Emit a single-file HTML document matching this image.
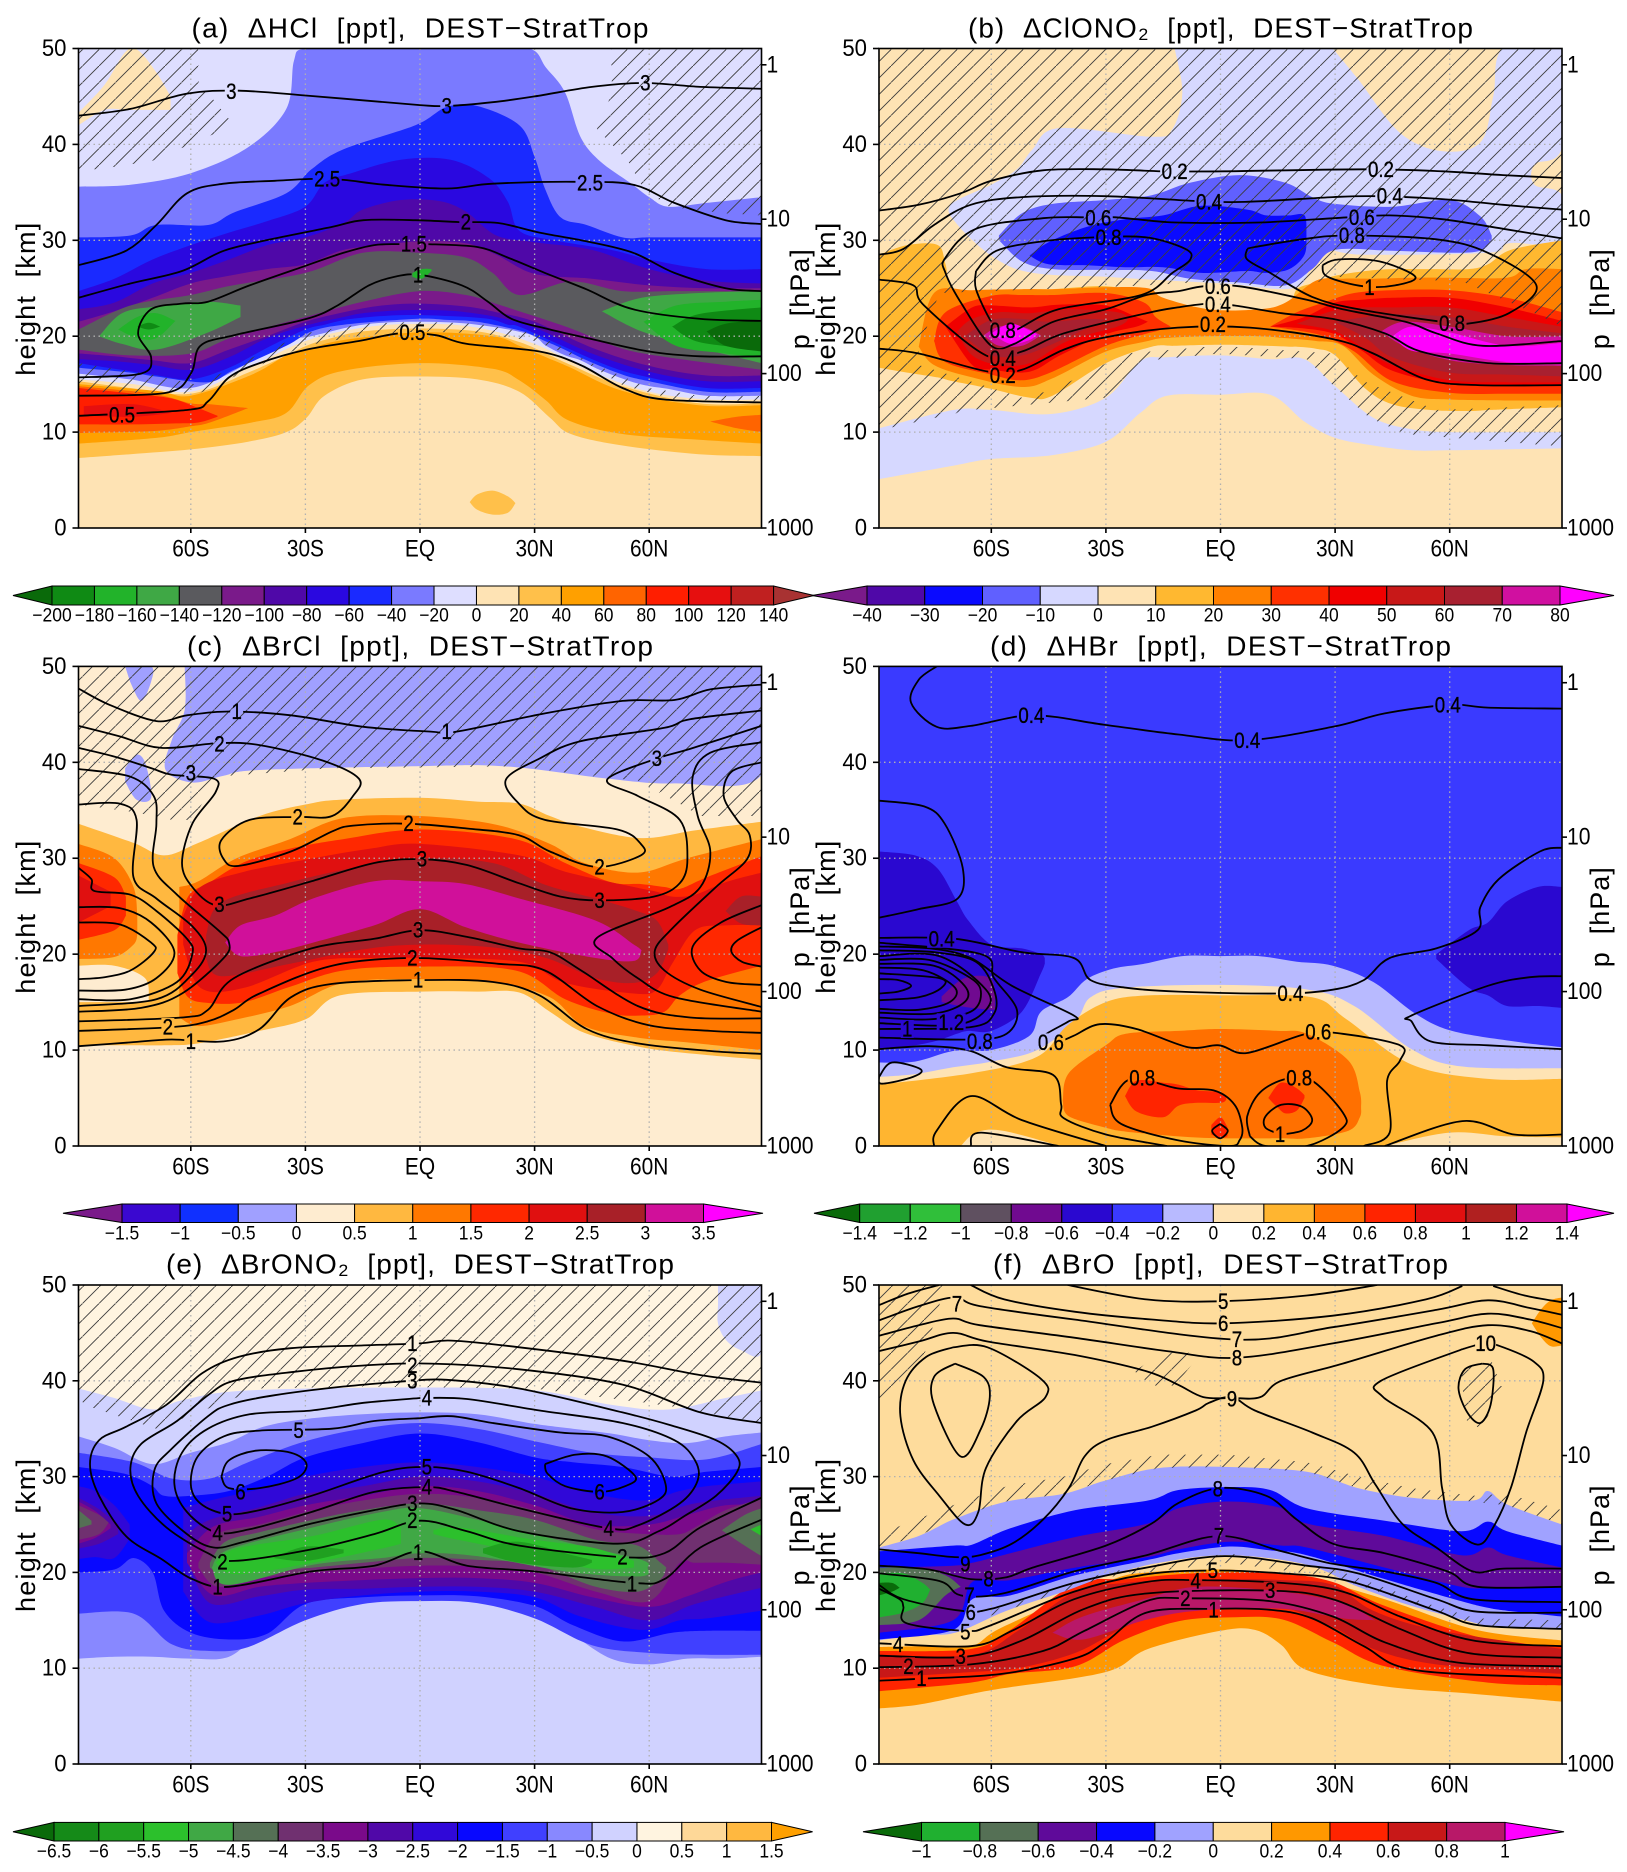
<!DOCTYPE html>
<html lang="en">
<head>
<meta charset="utf-8">
<title>DEST minus StratTrop zonal mean differences</title>
<style>
html,body{margin:0;padding:0;background:#fff}
svg{display:block}
text{font-family:"Liberation Sans",Arial,sans-serif;fill:#000}
</style>
</head>
<body>
<svg id="figure" xmlns="http://www.w3.org/2000/svg" width="1627" height="1872" viewBox="0 0 1627 1872">
<defs>
<pattern id="hatch" patternUnits="userSpaceOnUse" width="16.5" height="16.5">
<line x1="-1" y1="17.5" x2="17.5" y2="-1" stroke="#3a3a3a" stroke-width="0.9"/>
</pattern>
</defs>
</svg>
<script>
/* shared axes */
const latTicks=[-60,-30,0,30,60];
const latTickLabels=['60S','30S','EQ','30N','60N'];
const heightTicks=[0,10,20,30,40,50];
const pressureTicks=[1,10,100,1000];

/* ---------- panel a: HCl ---------- */
const levelsA=['−200','−180','−160','−140','−120','−100','−80','−60','−40','−20','0','20','40','60','80','100','120','140'];
const colorsA=['#0a6a0a','#0f8a14','#22b32a','#3fa845','#5a5a5e','#7a1a8a','#4f08a8','#2a08e0','#1a2aff','#7a7aff','#dedeff','#fee3b4','#ffc04a','#ffa000','#ff6400','#ff1e00','#e60f0f','#c02020','#a83232'];
const bandsA=[
[12,[[-89.4,15.3,7.3],[-75.8,14.6,7.7],[-60,14,8.2],[-45,16.2,9],[-35,18,10],[-29.7,19,11.5],[-25,19.6,13.8],[-15,20.5,15.5],[0,20.8,15.8],[15,20.5,15.5],[26,19.4,14.2],[34,18,11.5],[39.5,17,9.8],[53,14.8,8.6],[73,13,7.7],[89.4,13,7.5]]],
[12,[[13,2.7,2.7],[15,3.5,1.9],[19,3.9,1.4],[23,3.3,1.6],[25,2.6,2.6]]],
[13,[[-89.4,15,8.8],[-69,14.3,9.4],[-60,13.8,10],[-44,16,11],[-35,18,12],[-29,18.7,14.9],[-20,19.6,16.4],[0,20.4,17.2],[19,20,16.6],[26,19,15.4],[33,17.8,13.3],[39,16.8,11.2],[53,14.3,9.8],[73,12.8,9.2],[89.4,12.8,8.8]]],
[14,[[-89.4,14.8,9.9],[-70,14,10.1],[-60,13,10.6],[-55,12.9,11],[-45,12.5,12.5]]],
[14,[[76,11.1,11.1],[83,11.6,10.4],[89.4,11.8,10]]],
[15,[[-89.4,14.6,10.8],[-75,14,10.8],[-65,13.5,10.9],[-58,12.5,11],[-53,11.7,11.6]]],
[16,[[-88,12.7,11.7],[-75,12.9,11.6],[-65,12,12]]],
[10,[[-89.4,50,15.5],[-75,50,15],[-60,50,14.2],[-45,50,16.7],[-30,50,19.5],[-15,50,20.9],[0,50,21.3],[15,50,20.9],[30,50,19.2],[45,50,16.3],[60,50,14.2],[75,50,13.4],[89.4,50,13.4]]],
[11,[[-89.4,43.3,42],[-82.6,46.2,43.6],[-77.2,49.6,43.6],[-73.8,49.8,43.6],[-69,47.5,43.6],[-65.3,45,43.6]]],
[9,[[-89.4,35.6,16.1],[-75.8,35.8,15.5],[-60,37,14.6],[-45,39.7,17.2],[-35,43.7,19.9],[-33,48.7,20.2],[-30,50,19.9],[-15,50,21.2],[0,50,21.5],[15,50,21.2],[28.6,50,20.2],[33,48,19],[38,45.4,18],[42,40.8,17.5],[47,38.3,16.5],[55,36,15.3],[60,34.5,14.8],[65,33.5,14.5],[75,33.9,13.8],[89.4,34.5,13.8]]],
[8,[[-89.4,30.3,16.7],[-75.8,30.5,16.2],[-69,31.6,15.8],[-55.5,31.6,15.2],[-48.7,32.9,16.5],[-35,34.9,19],[-28.4,37.4,20.5],[-20,39.5,21.2],[-1.2,42,21.8],[7,43.9,21.7],[15,44,21.5],[26,42,20.6],[30,38.7,20],[32.7,35.4,19.5],[36.8,32.4,18.8],[43.6,31.6,17.5],[53,30.3,16],[60,30.3,15.3],[75,30.3,14.2],[89.4,30.3,14.2]]],
[7,[[-89.4,24.7,17.2],[-80,26,16.6],[-70,28,16],[-60,29.5,15.5],[-50,30.8,16.7],[-40,32,18.8],[-30,33.5,20.7],[-25,36,21.2],[-18,37,21.8],[-5,38.4,22.2],[8,38.4,22.1],[18,36.5,21.8],[23,34,21.2],[26,31,21],[35,30,19.4],[50,29,16.8],[60,28,15.7],[75,27,14.6],[89.4,27,14.6]]],
[6,[[-89.4,22.8,17.6],[-80,23.5,17.4],[-70,25.5,17],[-60,26.6,16.5],[-50,28,17.8],[-40,29.5,19.8],[-30,30.3,21.1],[-20,31.8,22],[-15,33.2,22.4],[-5,34.2,22.7],[5,34.1,22.7],[12,33,22.5],[20,30.5,22],[30,29.8,20.9],[45,29,18.2],[60,27,16.3],[75,25.8,15.3],[89.4,25.5,15.3]]],
[5,[[-89.4,21.5,18.2],[-80,22.6,17.9],[-70,24,17.5],[-60,25.5,17.2],[-50,26.3,18.6],[-40,27,20],[-30,27.5,21.5],[-20,29,22.5],[-10,29.5,23.2],[0,29.9,23.4],[12,29.7,23.1],[20,28.5,22.5],[30,26.5,21.5],[45,26,18.8],[60,25.3,16.9],[75,25,15.9],[89.4,25,15.9]]],
[4,[[-89.4,20.7,18.6],[-75.8,23.2,18],[-60,24.3,18.2],[-49,25.3,19.9],[-30,26.6,22],[-15,28.7,23.6],[0,28.7,24.7],[12,28.2,24.3],[19,26.6,23.5],[26,24.3,22.6],[39.5,25.7,20.8],[53,24.7,18.7],[66.6,24.7,17.7],[89.4,24.7,16.5]]],
[3,[[-84,20,20],[-78,22.4,19.2],[-69,23.1,18.6],[-56,23.6,20.3],[-47,23.2,22]]],
[3,[[47.6,22.6,22.6],[58,24,20.5],[73,24.5,18.8],[89.4,24.7,17.2]]],
[2,[[-79,20.7,20.7],[-74,22,19.8],[-69,22.4,19.8],[-64,21.6,21.6]]],
[2,[[58.5,21.5,21.5],[67,23.2,19],[80,23.6,18.2],[89.4,23.8,17.8]]],
[2,[[-2,26.6,26.2],[0.5,27,26],[3,27,26.8]]],
[1,[[-74,21,21],[-71,21.4,20.7],[-68,21,21]]],
[1,[[66,21,21],[73,22.3,19.4],[89.4,23,18.6]]],
[0,[[75,20.5,20.5],[80,21.3,19],[89.4,21.7,18.4]]]
];
const contoursA=[
[[-89.4,43],[-75.8,43.7],[-61,45.3],[-47.4,45.6],[-30,45.1],[-15,44.6],[0,44.1],[7,44],[19,44.4],[30,45],[45,46],[58.5,46.4],[73.4,46],[89.4,45.8]],
[[-89.4,27.4],[-77,28.9],[-69,31.6],[-61,34.9],[-51.4,35.9],[-38,36.2],[-27.7,36.4],[-20,36.3],[-9.4,35.8],[7,35.4],[19,35.9],[41,36.1],[55.8,35.8],[66.6,33.9],[80,32.1],[89.4,31.7]],
[[-89.4,24],[-75.8,25.5],[-62.3,26.8],[-51.4,28.9],[-39,30.1],[-23,31.4],[-14.8,32.1],[-1.2,32.1],[10.3,31.9],[20.5,31.8],[31.3,30.8],[43.5,29.9],[55.8,28.7],[66.6,26.6],[80,25],[89.4,24.7]],
[[-89.4,15.7],[-73,16.1],[-70.4,17.8],[-73.8,20.3],[-70.4,22.8],[-62.3,23.4],[-55.5,23.6],[-44.6,25.3],[-31,27.2],[-20,28.7],[-12,29.5],[-5.3,29.6],[1.5,29.6],[15,29.3],[23,28.2],[32.7,26.6],[43.5,24.9],[55.8,22.8],[73.4,21.8],[89.4,21.6]],
[[-89.4,13.8],[-66.4,14.1],[-60,16.1],[-57.5,19],[-48.7,20.1],[-29.7,21.8],[-21.6,23.2],[-13.4,25.3],[-6.6,26.2],[0,26.4],[11,25.3],[17.8,23.6],[24,21.8],[34,20.7],[45,19.7],[60,18.4],[73.4,17.9],[89.4,17.9]],
[[-89.4,11.7],[-61,12.3],[-55.5,13.2],[-50,15.7],[-42,17.2],[-29.7,18.6],[-16,19.5],[-5.3,20.3],[4.2,20.1],[12.3,19.2],[31.3,18.4],[42,17],[53,14.6],[64,13.4],[89.4,13.1]]
];
const labelsA=[['3',-49.4,45.5],['3',7,44],['3',59,46.4],['2.5',-24.3,36.4],['2.5',44.5,36],['2',12,31.9],['1.5',-1.6,29.6],['1',-0.5,26.4],['0.5',-2,20.4],['0.5',-78,11.8]];
const hatchA=[
[[-89.4,50],[-58,50],[-58,46.6],[-48.7,42],[-70,38.3],[-84,37.4],[-89.4,37.4]],
[[50,50],[89.4,50],[89.4,32.6],[80,32.8],[65.3,33.5],[58.5,35.4],[54.4,38.3],[46.3,41.6],[50.3,45.4]],
[[-89.4,17.2],[-70,16],[-58,14.9],[-46,17.4],[-30,20.3],[-15,21.3],[0,21.5],[15,21.3],[30,20.3],[45,17.2],[60,14.6],[73,13.8],[89.4,13.8],[89.4,13.2],[66.6,13.4],[53,14.9],[42,17.6],[30,19.5],[15,20.3],[0,20.5],[-15,20.1],[-30,19],[-46,16.3],[-58,14],[-89.4,14.2]]
];

/* ---------- panel b: ClONO2 ---------- */
const levelsB=['−40','−30','−20','−10','0','10','20','30','40','50','60','70','80'];
const colorsB=['#7a1a8a','#4f08a8','#0a0aff','#6060ff','#d6d8ff','#fee3b4','#ffb830','#ff8000','#ff3000','#f00000','#c81818','#a82030','#d010a0','#ff00ff'];
const bandsB=[
[4,[[-12,50],[-10,45.4],[-12.6,41.6],[-18,40.8],[-42.4,41.7],[-49.2,39.5],[-53.3,37.4],[-60,35.8],[-70.6,33.7],[-68.8,31.6],[-59.3,28.2],[-49.2,26.6],[-30.2,26.2],[-18,25.9],[1,25.5],[20,25.1],[25.3,28.9],[37.5,28.5],[70,28.7],[75.5,29.7],[89.4,29.9],[89.4,34.7],[82.2,35.8],[82.2,37.9],[89.4,39.7],[89.4,50],[74,50],[71.4,45],[68,40.2],[57.9,39.3],[47,41.2],[36.2,46.7],[29.4,50]]],
[4,[[-89.4,10.4,5.1],[-70,12.3,6.5],[-60,12.3,7.2],[-44,11.9,7.6],[-30,13.6,9],[-21,17.4,12],[-14,17.8,13.8],[0,18,13.9],[13,17.6,13.9],[22,17.6,11.1],[30,14.8,9.4],[40,11.5,8.6],[50,10.3,8.1],[60,10,8.1],[75,10,8.2],[89.4,10,8.3]]],
[3,[[-58,30.5,30],[-52,32.8,27.8],[-44,33.8,27],[-30,34.2,26.9],[-18,34.7,26.8],[-8,36,26],[5,36.8,25.6],[17,36,25.3],[24,34.5,27],[30,33.8,29],[45,33.5,28.9],[60,34.2,28.7],[68,32.5,28.9],[71,30.5,30]]],
[2,[[-50,28.4,28.4],[-45,29.8,27.5],[-35,31.4,27.4],[-25,32.2,27.2],[-15,32.6,27.2],[-5,33.6,26.6],[7,33.2,26.8],[12,32.6,26.6],[18,32.6,27],[22,32.6,28.5],[22.5,30.5,30.5]]],
[6,[[-89.4,28.5,16.7],[-82,29.5,16.2],[-74,29.5,15.7],[-72,27.5,15.5],[-70,25,15.3],[-60,24.8,14.5],[-50,24.9,13.6],[-44,24.9,13.8],[-30,25.2,17.2],[-18,24.4,18.9],[-12,23.5,19],[0,22.4,19.1],[12,22.5,19],[18,23,18.9],[20,24.9,18.9],[25,25.6,18.7],[30,26.3,18],[38,26.8,14.5],[45,27,12.9],[55,27,12.3],[65,27,12.2],[70,27.5,12.3],[76,29,12.4],[89.4,30,12.6]]],
[7,[[-79,18.9,18.9],[-75,24.5,17],[-65,24.8,15.7],[-52,24.9,14.7],[-44,24.9,15.6],[-30,25.1,18.4],[-19,25,19.5],[-15,24,19.8],[-3,22.8,20],[10,22.8,20],[17,23.5,19.8],[25,25.8,19.5],[32,26,19],[40,26,16],[50,26.1,13.8],[60,26.1,13.4],[75,26.1,13.3],[80,27,13.3],[89.4,27,13.3]]],
[8,[[-75,19.5,19.5],[-72,22.5,17.3],[-60,24.2,16],[-52,24.3,15.4],[-44,24.3,16.3],[-30,24.5,19],[-20,23.5,20.2],[-17,22,20.5],[-13,21,21]]],
[8,[[13,21,21],[20,22.5,20.6],[27,23.5,20],[35,24.5,18.4],[45,24.8,15.3],[60,24.8,14.1],[75,24,14],[89.4,22.5,14]]],
[9,[[-72,21,21],[-65,23,17],[-60,23.2,16.5],[-50,23,16.3],[-42,23.3,18],[-30,23.2,20.2],[-22,22,21],[-19,21.5,21.5]]],
[9,[[13,21,21],[22,22,20.8],[30,23.5,20.2],[37,23.8,18.5],[45,24,16.4],[60,24,15],[75,23,14.8],[89.4,21.6,14.8]]],
[10,[[-69,20.5,20.5],[-65,21.8,18],[-58,22.5,17],[-50,22.4,17.2],[-40,22.8,19.5],[-27,22.5,21],[-24,21.8,21.8]]],
[10,[[20,21.3,21.3],[30,22.7,20.5],[38,23,18.6],[45,23,17],[60,23,15.4],[75,22,15.2],[89.4,21,15.2]]],
[11,[[-67,20,20],[-60,21.7,18],[-52,21.8,18],[-45,21.5,19],[-35,21.8,20.8],[-30,21.7,21.7]]],
[11,[[30,21.5,21.5],[38,22,19.8],[45,22.3,17.8],[60,22,16.2],[75,21,16],[89.4,20.3,15.8]]],
[12,[[-62,20.1,20.1],[-58,21,19],[-52,21,19],[-47,20.1,20.1]]],
[12,[[42,20.5,20.5],[48,21.5,19],[60,21,17.5],[75,20,17],[89.4,20,16.9]]],
[13,[[-60,20.3,20.3],[-55,21.3,19.2],[-50,20.6,19.6],[-48,20.2,20.2]]],
[13,[[45,20,20],[50,21,18.5],[60,20.4,18.2],[75,19,17.3],[89.4,19.3,17.2]]]
];
const contoursB=[
[[-89.4,33.1],[-79,33.7],[-68,34.9],[-60,36.2],[-46.5,37.3],[-30,37.4],[-15.3,37.2],[1,37.2],[37.5,37.4],[58,37.2],[74,36.8],[89.4,36.5]],
[[-89.4,28.5],[-83,29.1],[-75,31.6],[-65.4,33.7],[-52,34.5],[-30,34.6],[-6.5,34.1],[6.4,34],[29.4,34.5],[41,34.6],[58,34.3],[74,33.7],[89.4,33.2]],
[[89.4,30.2],[74,31.2],[58,32.2],[44.3,32.6],[33.5,32.4],[13,31.9],[-0.4,31.8],[-14,31.9],[-27.5,32.4],[-35,32.4],[-46.5,32.3],[-64,31.2],[-72,28.2],[-72,26.6],[-67.5,23.2],[-60,19],[-54,19.2],[-43.8,21.5],[-30,22.8],[-19.4,24.3],[-11,24.7],[-4.5,25.2],[5,25.2],[22.6,23.8],[32,22.8],[48.4,21.5],[56.5,20.3],[68.7,19],[89.4,19.5]],
[[-89.4,25.9],[-80.4,25.3],[-77.6,23.2],[-61.4,18],[-52,18.4],[-41,20.3],[-19.4,22.4],[-11.2,23],[-3,23.4],[3.7,23.2],[16,22.4],[29.4,21.8],[43,20.3],[52.4,18.4],[70,17.2],[89.4,17.2]],
[[-89.4,18.7],[-79,18.2],[-60.7,16.3],[-52,16.5],[-41,18.6],[-30,19.9],[-11.2,20.9],[7.7,20.9],[29.4,19.7],[40,18.2],[53.8,15.5],[67.3,14.9],[89.4,14.9]],
[[-64,26.8],[-58.7,28.9],[-46.5,29.9],[-33,30.3],[-19.4,30.3],[-9.2,29.1],[-7.9,28],[-12.6,26.6],[-20.7,24.3],[-42.4,22.8],[-53.3,20.7],[-57,20.4],[-60,21.5],[-64,24.9],[-64,26.8]],
[[7,29.1],[9,29.3],[21.3,30.1],[33.5,30.5],[56.5,30.1],[70,28.7],[82.7,25.3],[75.5,22.4],[64.6,21.3],[57.9,21.5],[36.2,22.8],[24,24.1],[13,26.6],[7,28],[7,29.1]],
[[26.7,27.4],[30.8,28],[41.6,27.8],[51,26.2],[45.7,25.3],[37.5,25.2],[28,26.2],[26.7,27.4]]
];
const labelsB=[['0.2',-12,37.2],['0.2',42,37.4],['0.2',-2,21.2],['0.2',-57,15.9],['0.4',-3,34],['0.4',44.3,34.6],['0.4',-0.7,23.3],['0.4',-57,17.7],['0.6',-32,32.3],['0.6',37,32.4],['0.6',-0.7,25.2],['0.8',-29.3,30.3],['0.8',34.4,30.5],['0.8',-57,20.6],['0.8',60.6,21.3],['1',39,25.1]];
const hatchB=[
[[-89.4,50],[89.4,50],[89.4,8.5],[48.4,9.8],[39,11.5],[29.4,14.9],[22.6,17.6],[-0.4,18.2],[-20.7,17.4],[-30,13.6],[-65.4,12.3],[-89.4,10.2]],
[[-79,18.6],[-73.6,24.5],[-19.4,25.3],[-3,25.7],[20,24.9],[29.4,26.2],[63.3,25.7],[82.2,22.4],[89.4,21],[89.4,12.8],[56.5,12.3],[37.5,15.3],[29.4,18.2],[-0.4,19],[-24.8,18.2],[-43.8,14.4],[-52,13.6],[-79,17]]
];

/* ---------- panel c: BrCl ---------- */
const levelsC=['−1.5','−1','−0.5','0','0.5','1','1.5','2','2.5','3','3.5'];
const colorsC=['#7a1a8a','#3a08d0','#1030ff','#a0a0ff','#feecd0','#ffb840','#ff7800','#ff2800','#e01010','#a82028','#d0109a','#ff00ff'];
const bandsC=[
[3,[[-61.6,50],[-61.6,45.5],[-65,42.3],[-66.6,39.2],[-59.6,37.9],[-51.4,38.6],[-42,39.2],[-1.2,39.6],[21.8,39.6],[49,38.3],[66.6,37.8],[89.4,38.7],[89.4,50]]],
[3,[[-77.2,50],[-70.4,50],[-70.4,48.4],[-73,46.4],[-75.9,48.4]]],
[3,[[-77.2,39.4],[-74.2,40.8],[-71.8,39.8],[-70.4,36.3],[-74.2,36.1],[-77.2,38]]],
[5,[[-89.4,33.6,10.5],[-75,31.6,10.5],[-67,30.3,10.5],[-58,31.6,10.7],[-42,34.4,12],[-30,35.6,13.2],[-21,36.1,15.7],[0,36.3,16.1],[15,35.9,16.1],[26,35.7,16],[34,34.4,14],[43,33.2,11.8],[58,32.1,10.3],[72,32.9,9.6],[89.4,33.8,9]]],
[4,[[-89.4,18.8,15],[-80,18.8,15],[-72,17.5,15],[-71,15.2,15.2]]],
[6,[[-89.4,31.5,19.5],[-80,30,19.7],[-75,27,21],[-74,24,22]]],
[7,[[-89.4,29.5,21.5],[-80,28,22.5],[-77,26,24]]],
[8,[[-89.4,28.2,23.3],[-81,26.5,25]]],
[6,[[-63,27,13.4],[-58,27.6,12.5],[-48,30,13.2],[-34,32,14.6],[-20,34.2,17],[0,34.4,17.4],[20,33.5,17],[34,31.5,15.5],[43,29.5,12.5],[57,28.5,11.3],[70,30,10.8],[89.4,32,10]]],
[7,[[-63.5,22,18],[-60.7,26,15.5],[-55,27.5,14.9],[-46,29.6,15],[-34,31,16.6],[-20,32,18.3],[0,33,18.7],[25,32,18.3],[38,29.5,15.3],[50,27.5,13.8],[58,27.3,13.6],[64,27,14],[68,26.8,15.7],[75,28,17.2],[89.4,30.2,18.8]]],
[8,[[-62,24,21],[-57.5,27,16.5],[-46,28.6,16.5],[-28,30,19.2],[-13,31,19.6],[0,31.5,19.6],[26,30.3,19.2],[38,28.6,17],[56,27,15.9],[62,26.5,16.3],[66,26,19],[72,26.2,22.5],[80,27.5,23],[89.4,28.5,23]]],
[9,[[-56,22,19.5],[-52,25.4,17.7],[-34,27.5,19],[-15,29.2,20.5],[0,30,21],[19,29.5,20.7],[33,27.2,19.6],[46,25.8,17.5],[56,24.6,17],[62,23.5,18],[65,21,20.5]]],
[9,[[80,24.5,24.5],[84,26,23.2],[89.4,26,23]]],
[10,[[-51,21.2,21.2],[-47,23,19.8],[-38,24,20.2],[-28,25.8,21.2],[-12,27.6,23],[0,27.6,24.7],[12,27.3,22.8],[26,25.8,21.2],[46,23.5,19.6],[56,21,19.3],[58,20.4,20.4]]]
];
const contoursC=[
[[-89.4,47.7],[-81.3,46],[-69,44.3],[-61,44.9],[-50,45.3],[-33.8,44.9],[-14.8,43.7],[2.8,43.2],[9.6,43.2],[32.7,45.1],[53,46.4],[66.6,46.5],[76,47.6],[89.4,48.1]],
[[-89.4,43.8],[-78.6,42.7],[-67.7,41.5],[-52.8,42],[-42,41.8],[-25.6,40.2],[-16,38.3],[-17.5,36.5],[-23,34.4],[-31.8,34.3],[-44.6,34],[-52,31.9],[-51.4,29.9],[-47.4,29.2],[-33.8,30.7],[-23,32.8],[-17.5,33.4],[-3.3,33.6],[12.3,33.1],[25.9,32.4],[34,30.7],[46.3,29.1],[57.8,30.3],[57.8,31.5],[51.7,33],[32.7,34],[25.9,35.7],[22.5,38.2],[31.3,40.4],[42,42.2],[64,43.6],[70.7,44.5],[89.4,45.4]],
[[-89.4,41.5],[-80,40.6],[-70.4,39.4],[-65,38.7],[-54,38.3],[-53.5,36.9],[-59.6,33.6],[-62.3,29.5],[-59.6,27],[-53.5,25.1],[-44.6,25.8],[-28.4,27.6],[-12,29.5],[0,29.9],[12.3,29.3],[25.9,27.4],[36.8,26],[47,25.6],[61.2,26],[68,27.4],[70,29.9],[68,34],[57,36.5],[49,38.2],[62,40.4],[70.7,41.4],[89.4,43.8]],
[[-89.4,39.3],[-75.8,38.5],[-69.7,36.5],[-69,33.6],[-69.7,29.1],[-63.6,26.2],[-52.8,22.5],[-50,21.2],[-51.4,19.6],[-62.3,15.9],[-73,14.4],[-89.4,14]],
[[-89.4,35.6],[-78.6,35.7],[-74.2,34],[-75,28],[-69,25.8],[-59.6,22.9],[-56,20.4],[-59.6,17.9],[-69,15.3],[-89.4,14.6]],
[[-89.4,29],[-86,27.8],[-85.3,26.6],[-75.8,26.2],[-69,24.5],[-61,21.6],[-59.6,20],[-63.6,17.1],[-75.8,15.3],[-89.4,15.3]],
[[-89.4,24.9],[-78.6,24.8],[-70.4,23.3],[-64.3,20.2],[-69,17.5],[-77.2,16.3],[-89.4,16.2]],
[[-89.4,23.3],[-78.6,23.1],[-70.4,21.2],[-69.7,20.2],[-75.8,18.3],[-82.6,17.6],[-89.4,17.4]],
[[-89.4,10.4],[-75.8,10.8],[-65,11.1],[-51.4,10.9],[-42,12.2],[-33.8,15.5],[-23,16.9],[0,17.3],[19.1,17.1],[31.3,15.7],[43.6,12.2],[57,10.7],[76,9.9],[89.4,9.6]],
[[-89.4,12],[-65,12.4],[-55.5,13],[-48.7,14.2],[-42,15.9],[-23,18.8],[-2,19.6],[20.5,19],[32.7,18.3],[46.3,14.6],[59.8,12.6],[76,12],[89.4,11.8]],
[[-89.4,13],[-62.3,13.4],[-55.5,14.2],[-48.7,17.5],[-28.4,20.6],[-12,21.6],[0,22.5],[12.3,21.8],[25.9,20.6],[34,20.2],[42.2,18.3],[57,14.6],[70.7,13.4],[89.4,13.3]],
[[89.4,42.1],[76,41],[71.4,38.5],[72.7,34.4],[76,30.7],[73.4,27],[65.3,24.9],[46.3,21.7],[50.3,19.6],[57,17.5],[66.6,15.5],[89.4,14]],
[[89.4,40],[81.5,39],[79.5,36.5],[83,34],[86.3,32.4],[85.6,29.9],[77.5,27],[66.6,22.9],[61.5,20.4],[64,18.3],[73.4,16.3],[89.4,14.5]],
[[89.4,25.1],[78.8,23.3],[71.4,20.8],[73.4,18.3],[80.2,17.1],[89.4,16.8]],
[[89.4,22.8],[83,21.4],[81.5,20.3],[84.3,19.2],[89.4,18.7]]
];
const labelsC=[['1',-48,45.3],['1',7,43.2],['1',-0.5,17.3],['1',-60,10.9],['2',-52.5,41.9],['2',-32,34.3],['2',-3,33.6],['2',47,29.1],['2',-2,19.6],['2',-66,12.4],['3',-60,38.9],['3',62,40.4],['3',-52.5,25.2],['3',0.5,29.9],['3',47,25.6],['3',-0.5,22.5]];
const hatchC=[
[[-89.4,50],[89.4,50],[89.4,34.4],[73.4,34.4],[68,35.7],[57,38.1],[46.3,38.5],[26,39.6],[-14.8,39.4],[-23,39.4],[-52.8,38.5],[-59.6,34],[-65,34],[-74.5,34.8],[-89.4,35.6]]
];

/* ---------- panel d: HBr ---------- */
const levelsD=['−1.4','−1.2','−1','−0.8','−0.6','−0.4','−0.2','0','0.2','0.4','0.6','0.8','1','1.2','1.4'];
const colorsD=['#0a6a0a','#20a030','#30bf3a','#5f5060','#700a90','#2a08d0','#3a3aff','#b8baff','#fee3b4','#ffb530','#ff7000','#ff2400','#e01010','#b02020','#d0109a','#ff00ff'];
const bandsD=[
[5,[[-89.4,30.7,10],[-80,30.3,10.5],[-74,28.9,11],[-69,25.5,11.7],[-66,23.5,12],[-60,21,12],[-52,20.6,14],[-47,20,18],[-46,19.6,19]]],
[5,[[56.5,20,19.5],[65,22.5,16.5],[70,23.3,15.7],[75,25.5,14.6],[83,27,14.6],[89.4,27,14.4]]],
[4,[[-73,15.6,15],[-67,17.5,14.5],[-60,17.4,14.2],[-59,14.5,14.3]]],
[7,[[-89.4,8.7,0],[-80,8.8,0],[-70,9.9,0],[-60,10,0],[-50,11.5,0],[-47,14,0],[-40,15.5,0],[-35,17.4,0],[-28,18.5,0],[-20,19,0],[-10,19.8,0],[0,19.8,0],[10,19.8,0],[20,19.2,0],[29.4,18.8,0],[40,17.1,0],[51,13.8,0],[60.6,12,0],[76.8,10.9,0],[89.4,10.3,0]]],
[8,[[-89.4,7.2,0],[-80,7.5,0],[-70,8.2,0],[-60,8.8,0],[-48,10,0],[-38,13,0],[-34,15.5,0],[-25,16.5,0],[0,16.8,0],[23,16.3,0],[35,14.6,0],[50,10.1,0],[63,8.3,0],[89.4,8.1,0]]],
[9,[[-89.4,6.4,0],[-65,7.6,0],[-48,9.3,0],[-40,12.6,0],[-30,15,0],[-19,15.7,0],[2,15.7,0],[24,15.5,0],[33,13.2,0],[50,8.5,0],[70,7,0],[89.4,7,0]]],
[8,[[-68,0,0],[-64,1.4,0],[-57,1.6,0],[-42,0,0]]],
[8,[[43,0,0],[60,1.4,0],[75,1,0],[89.4,0.9,0]]],
[10,[[-41.3,4.7,4.7],[-39.7,7.6,3.1],[-30,10.5,1.9],[-24.8,11.7,1.5],[-11,12,1],[0,12.2,0.8],[15,12,0.8],[22.6,11.7,0.8],[33.5,8.9,1.6],[36.5,5.6,3],[36.8,4,4]]],
[11,[[-25,5.2,5.2],[-22,6.8,3.6],[-15,6.6,3],[-11,6.4,4.2],[-6,5.8,4.5],[0,5.6,4.5],[1.5,5,4.8]]],
[11,[[-2.4,2.2,1.2],[0,3,0.8],[1.8,2,1]]],
[11,[[12.5,5,5],[15,6.4,4],[17,6.6,3.4],[20,6,3.7],[22,5.3,5]]]
];
const contoursD=[
[[-74.3,50],[-79,48.6],[-81,46.2],[-74.3,43.7],[-65.4,43.8],[-49.2,44.9],[-30.2,43.9],[-11,42.9],[7,42.3],[29.4,43.7],[43,45.1],[60,46],[70,45.7],[89.4,45.6]],
[[-89.4,36],[-77.6,35.4],[-72.2,33.6],[-67.5,29],[-68.8,25.8],[-79,24.7],[-89.4,23.8]],
[[89.4,31.1],[83.6,30.7],[72.8,27.8],[68,24.9],[67.3,22.5],[56.5,20.6],[44.3,19.6],[37.5,17.3],[29.4,16.3],[16,15.9],[-11,16.1],[-24.8,16.5],[-34,17.3],[-38.4,19.6],[-52,20.2],[-69.5,21.6],[-89.4,21.7]],
[[89.4,17.7],[81,17.6],[70,16.7],[50,13.6],[50,13],[55,10.9],[70,10.5],[89.4,10.1]],
[[-89.4,20.8],[-76,20.6],[-65.4,19.6],[-54.6,16.7],[-38.4,13.6],[-39.7,13],[-46.5,11.4],[-42,11],[-38.4,11.5],[-31.6,12.7],[-22,12.2],[-8.5,10.3],[-0.4,10.5],[7,9.7],[22.6,11.7],[32,11.7],[47,10.5],[47,8.9],[43.6,6.8],[44.3,1.4],[37.5,0]],
[[-89.4,10.1],[-76.3,10.4],[-65.4,9.9],[-56,8.2],[-43.8,7.4],[-41.7,4.3],[-41,2.9],[-30,1.2],[-14,0]],
[[-89.4,7.2],[-86,8.7],[-78.5,8],[-80.5,7.2],[-88.6,6.5],[-89.4,7.2]],
[[-75,0],[-74.3,1.6],[-65.4,5.2],[-52,2.7],[-30,0]],
[[-65.4,0],[-62.7,1.4],[-42.4,0]],
[[43,0],[63.3,2.6],[76.8,1.2],[89.4,1.2]],
[[-89.4,11.3],[-65.4,11.1],[-56,11.7],[-53.3,14.2],[-59.3,17.5],[-62.7,20],[-89.4,21.2]],
[[-89.4,20.4],[-75,20.2],[-64,19.2],[-59.3,16.3],[-59.3,13.8],[-65.4,12.4],[-89.4,12.2]],
[[-89.4,19.8],[-73.6,19.8],[-61.4,16.3],[-61.4,14.2],[-69.5,12.6],[-89.4,12.8]],
[[-89.4,19.4],[-76.3,19.4],[-65.4,17.5],[-62.7,15.9],[-65.4,14],[-76.3,13.2],[-89.4,13.4]],
[[-89.4,19],[-75,18.8],[-67,16.7],[-67,15],[-75,13.8],[-89.4,13.9]],
[[-89.4,18.6],[-77.6,18.3],[-69.5,16.5],[-70.9,15],[-79,14.2],[-89.4,14.3]],
[[-89.4,18],[-73.6,17.5],[-73,16.5],[-79,15.5],[-89.4,15.2]],
[[-89.4,17.4],[-84.3,17.3],[-81,16.7],[-84.4,16.1],[-89.4,15.9]],
[[-0.1,2.3],[1.9,1.6],[-0.1,0.8],[-2.2,1.6],[-0.1,2.3]],
[[-28.9,4.3],[-23.4,7],[-11.2,6],[-1.8,5.8],[3.7,4.3],[5.7,1.9],[5,0.6],[2.3,0],[-11.2,0.6],[-26,2.3],[-28.9,4.3]],
[[7.7,1],[7,3.1],[10.4,5.6],[17.2,7],[24,6.8],[32,3.5],[32,1.9],[22.6,0],[11.8,0],[7.7,1]],
[[15.9,1.2],[11.8,1.9],[11.8,3.1],[15.9,4.3],[21.3,4.1],[24,2.7],[21.3,1.6],[15.9,1.2]]
];
const labelsD=[['0.4',-49.5,44.9],['0.4',7,42.3],['0.4',59.5,46],['0.4',-73,21.6],['0.4',18.3,15.9],['0.6',-44.4,10.8],['0.6',25.6,11.9],['0.8',-63,10.9],['0.8',-20.5,7.1],['0.8',20.6,7.1],['1.2',-70.5,12.9],['1',-82,12.2],['1',15.6,1.2]];
const hatchD=[];

/* ---------- panel e: BrONO2 ---------- */
const levelsE=['−6.5','−6','−5.5','−5','−4.5','−4','−3.5','−3','−2.5','−2','−1.5','−1','−0.5','0','0.5','1','1.5'];
const colorsE=['#0a6a0a','#158a18','#20a020','#2cc02c','#40a845','#557055','#703070','#7a0a8a','#5008a8','#3008d8','#0808ff','#4040ff','#8888ff','#d0d2ff','#fff4e0','#fed898','#ffb840','#ffa000'];
const bandsE=[
[14,[[-89.4,50,39.2],[-80,50,38.2],[-70,50,37],[-62,50,38],[-45,50,39],[0,50,39.3],[30,50,39],[50,50,37.5],[65,50,37],[80,50,38.2],[89.4,50,39]]],
[13,[[78,50],[78,48],[78,46],[80,44.3],[84,43.2],[89.4,43],[89.4,50]]],
[12,[[-89.4,34.2,11],[-80,33,11.2],[-70,31.3,11.2],[-60,32.5,11],[-50,33.6,11.2],[-41,35.2,13.9],[-30,36,15.5],[-15,36.5,16.8],[0,36.7,17.2],[15,36.5,17.2],[30,35.5,16],[40,35,13.5],[50,34.5,11],[60,33.8,10.4],[70,33.5,11],[80,34.2,11],[89.4,34.6,11.2]]],
[11,[[-89.4,32.5,15.7],[-75,31.5,15.7],[-65,29.8,12.5],[-55,29.8,11.8],[-45,31.5,12.2],[-30,33.7,15],[-15,35,16.7],[0,35.6,17],[15,35,16.8],[30,33.7,15.2],[45,32.5,12.4],[60,32,11.6],[75,31.8,11.4],[89.4,33.4,11.4]]],
[10,[[-89.4,31,20],[-80,30.5,20.3],[-75,30,21.5],[-70,29,20],[-67,28,16],[-60,28,13.7],[-50,28.5,13],[-40,30,13.6],[-30,32,16.7],[-15,33.5,17.4],[0,34.5,17.6],[15,33.6,17.5],[30,32,16.5],[40,31.5,14.5],[53,31,12.8],[66,30,13.7],[75,30.5,13.9],[89.4,31,13.9]]],
[9,[[-89.4,29,21.4],[-85,28.5,21.6],[-80,27,21.5],[-76,25,23.5]]],
[9,[[-62,26.7,18],[-55,27.5,14.8],[-42,28.7,15.5],[-30,30,16.8],[-15,31,17.6],[0,31.5,18],[15,31,18],[30,30,17.4],[42,28.5,15.4],[58,27.5,14],[68,28.5,15],[75,29,15.2],[89.4,29.5,16]]],
[8,[[-89.4,27.8,22.5],[-84,26.6,23],[-79,25,24]]],
[8,[[-61,24,21.5],[-55,25.5,16.8],[-42,26.8,17.5],[-30,28.2,18.2],[-15,29,18.3],[0,30,18.5],[15,29.5,18.5],[30,28.2,18],[45,26.3,16.5],[60,25.9,15],[72,27.2,16.7],[89.4,28,18.4]]],
[7,[[-89.4,27.4,23],[-85,26.4,23.6],[-81,25,24.6]]],
[7,[[-61,22,21],[-54,24.8,17.6],[-42,25.8,18.5],[-30,27,18.9],[-15,28,19.2],[0,29,19.4],[15,28.5,19.4],[30,27,18.9],[45,25,17.4],[60,25,16.4],[70,26,17.5],[80,27,19],[89.4,27,20]]],
[6,[[-89.4,27,23.4],[-84,26,24],[-81.5,25.2,25.2]]],
[6,[[-58,21,20.5],[-53,24,18.5],[-42,25,19.4],[-28,26.5,20],[-15,27.5,20.4],[0,28.2,20.7],[15,27.8,20.6],[30,26.5,20],[46,24.5,18],[60,24,17],[68,24,21],[72,24.7,21],[80,26.5,21],[89.4,27.7,20.8]]],
[5,[[-89.4,26.5,24.6],[-86,25.4,25]]],
[5,[[-55,21,20.5],[-51,23.2,19.6],[-42,24.2,20.1],[-28,25.5,20.5],[-15,26.5,21],[0,27.2,21.5],[15,26.5,21.3],[30,25.5,20.8],[46,23.4,18.5],[57,22.8,18],[63,21,19.3],[64.5,20.5,20.5]]],
[5,[[79,24.4,24.4],[85,26,22.8],[89.4,26.7,21.7]]],
[4,[[-54.5,20.5,20.5],[-50,22.4,18.7],[-28,24.7,20.8],[-10,26.3,21.5],[0,26.7,22],[15,25.5,21.7],[40,23,20],[58,21.3,19.6],[59.6,20.5,20.5]]],
[3,[[-53.5,21,21],[-48,22.5,19.8],[-28,23.8,21],[-10,25.5,22.5],[-5,24.7,23]]],
[3,[[3.5,24.4,24],[10,24.7,23.4],[30,23.4,21.8],[45,22.6,20.4],[56,21.2,20.5]]],
[3,[[86.5,24.5,24.5],[89.4,25,23.8]]],
[2,[[-38.5,21.5,21.5],[-30,22.7,21.2],[-20,22.4,22]]],
[2,[[16.5,22.5,22],[26,23.2,21],[40,21.8,20.5],[45,21.3,21]]]
];
const contoursE=[
[[89.4,39.8],[73.4,40.6],[53,42.1],[26,43.5],[8.3,44.2],[0,43.9],[-14.8,43.7],[-33.8,43.4],[-47.4,42.5],[-57,40.8],[-66.4,37.5],[-77,35.2],[-84,33.8],[-86.4,31.3],[-84,28],[-77,23.8],[-67.7,21.4],[-59.6,19.3],[-50,18.5],[-28.4,20.1],[-12,20.7],[0,22.2],[12.3,20.7],[30,20.1],[55.8,18.9],[64,19.3],[73.4,22.6],[89.4,25.5]],
[[89.4,35.6],[73.4,36.7],[53,39.6],[26,41.2],[2.8,41.8],[-14.8,41.6],[-33.8,40.9],[-48.7,40],[-55.5,38.5],[-63.6,35.8],[-73,33.4],[-75.8,30.9],[-73.8,28],[-66.4,24.7],[-55.5,22],[-48.7,21.2],[-28.4,22.4],[-12,24],[0,25.4],[12.3,24.3],[26,22.8],[53,21.6],[64,22],[73.4,24.7],[89.4,27.8]],
[[-2.6,40],[7,40.1],[26,39.2],[53,36.7],[65.3,35.4],[77.5,33.8],[83,32.1],[83,30.5],[77.5,28],[69.3,25.9],[62.5,24.3],[51.7,23],[26,24.3],[9.6,26.5],[0,27.2],[-12,26.5],[-28.4,25.1],[-46,23.2],[-54,22.6],[-61,24],[-69,27.2],[-69.5,30.7],[-65,32.9],[-55.5,36.3],[-50,37.5],[-38,38.5],[-20,39.4],[-2.6,40]],
[[0.1,38.2],[12.3,38.1],[31.3,36.9],[53,35.6],[66.6,33.8],[72,31.7],[72.7,29.6],[68,27.2],[57,24.9],[49.4,24.6],[26,26.7],[9.6,28.4],[1.8,28.9],[-12,28.4],[-28.4,26.3],[-44.6,24.5],[-53.5,24.2],[-61,26.3],[-64.3,29.2],[-62.3,32.5],[-55.5,35],[-44.6,36.5],[-28.4,36.9],[-14.8,37.7],[0.1,38.2]],
[[0.1,36.1],[8.3,36.3],[19,35.6],[36.8,34.6],[49,34.2],[60,32.1],[64.3,29.2],[62.5,27.6],[53,26.3],[39.5,26.7],[26,28.8],[12.3,30.5],[1.8,31],[-9.4,30.5],[-28.4,28],[-42,26.5],[-50.7,26.1],[-57.5,27.2],[-60,29.2],[-58.2,32.1],[-51.4,34.2],[-42,34.8],[-23,35],[-12,35.8],[0.1,36.1]],
[[-52,30],[-50,31.7],[-43,32.7],[-33.8,32.5],[-29.7,31.3],[-32.4,29.8],[-42,28.8],[-50,28.8],[-52,30]],
[[32.7,31.3],[40.8,32.3],[49,32.1],[56.4,30],[53.7,29],[47,28.4],[38,29],[33.4,30.3],[32.7,31.3]]
];
const labelsE=[['1',-2,43.9],['1',-0.5,22.1],['1',-53,18.5],['1',55.5,18.8],['2',-2,41.6],['2',-2,25.4],['2',-51.7,21.1],['2',53,21.6],['3',-2,40],['3',-2,27.2],['4',1.8,38.2],['4',1.8,28.9],['4',-53,24.1],['4',49.4,24.6],['5',-31.8,34.8],['5',1.8,31],['5',-50.5,26.1],['6',-47,28.4],['6',47,28.4]];
const hatchE=[
[[-89.4,50],[89.4,50],[89.4,35.6],[66.6,37.3],[30,39.2],[-14.8,39.4],[-42,39.2],[-69,35],[-88,37.5],[-89.4,38.8]]
];

/* ---------- panel f: BrO ---------- */
const levelsF=['−1','−0.8','−0.6','−0.4','−0.2','0','0.2','0.4','0.6','0.8','1'];
const colorsF=['#0a6a0a','#20b030','#557055','#5f0a9a','#0808ff','#a0a2ff','#fedc9c','#ff9800','#ff2400','#c81818','#b81868','#ff00ff'];
const bandsF=[
[7,[[81.5,46,46],[84,47.5,44.5],[86.5,48.4,43.6],[89.4,48.7,43.7]]],
[7,[[-89.4,12.2,5.8],[-79,12.3,6.2],[-65.4,12.3,7.3],[-57,14.3,7.9],[-30,19,9.6],[-19,20,12],[0,20.3,13.9],[9,20,14],[16,19.5,12.4],[22.6,19.5,9.8],[43,17.2,8.1],[67,14,7.3],[89.4,12.9,6.5]]],
[8,[[-89.4,11.8,7.6],[-65.4,12,8.5],[-55,14,9.4],[-38,18.8,10.2],[-25,19.3,13],[-11,19.8,14.9],[2.3,20,15.3],[16,19.9,15.1],[29.4,19,12.7],[43,16.5,10.2],[70,13,8.5],[89.4,12.4,8.2]]],
[9,[[-89.4,11.4,9],[-65,11.4,9.6],[-53,13.9,10],[-38,18,11.6],[-25,18.9,14.3],[-14,19.2,16],[2.3,19.3,16.6],[16,19.2,16.4],[29.4,18.7,14.3],[40,16,12],[56.5,14,10.4],[89.4,12,9.4]]],
[10,[[-44,13.7,13.7],[-36,15.4,13],[-20,17.2,15],[-6,18.5,16],[16,18,16.2],[32,16.8,15.2],[40.5,15,15]]],
[5,[[-89.4,22.6,12.9],[-79,23.8,13.5],[-69.5,25.6,13.7],[-56,27.4,16],[-41,28.2,18],[-30,29.6,19.6],[-16,30.9,21],[2.3,31,21.8],[22.6,30.5,20.8],[36,28.8,18.5],[50,27.8,16.5],[66,27.5,14.8],[70,28.5,14.4],[75,27.1,14.3],[89.4,25,14.2]]],
[4,[[-89.4,22.2,13],[-70,22.8,14],[-65,22.9,17.2],[-55,24.6,17.6],[-38,26.5,19.7],[-19,27.5,21.3],[-11,28.6,22],[2.3,28.9,22.7],[13,28.6,22.3],[22.6,26.7,21.8],[43,25.4,19.3],[63,24.3,17],[70,25.3,16.3],[75,24.3,16],[89.4,22.8,15.4]]],
[3,[[-89.4,20.5,13.7],[-70,20.7,15],[-65,21,19],[-55,22,19.2],[-38,23.7,20.5],[-19,25.1,21.6],[-11,26.7,22.4],[2.3,27.4,23.2],[16,26.7,22.8],[22.6,25.1,22.6],[43,23.8,20.5],[63,21.8,18.5],[70,22.6,18.4],[75,21.8,18.4],[89.4,20.5,18.4]]],
[2,[[-89.4,20.5,14.5],[-79,20.5,15],[-72,19.7,17.6],[-68,18.5,18.5]]],
[1,[[-89.4,19.9,15.3],[-83,19.9,15.8],[-78,18.9,16.8],[-76,18.2,18.2]]],
[0,[[-89.4,18.9,17.6],[-86,18.9,18],[-84,18.4,18.4]]]
];
const contoursF=[
[[-40,50],[-19.4,48.5],[-0.4,48.3],[22.6,48.9],[41,50]],
[[-65.4,50],[-56.6,48.5],[-38,47.2],[-18,46.4],[0.9,46],[29.4,46.8],[53.8,48.5],[63.3,49.9]],
[[71.4,49.9],[79.6,48.9],[89.4,48.2]],
[[-89.4,47.9],[-81.8,49.1],[-73.7,50]],
[[-89.4,46.3],[-79,47.8],[-69.5,48.7],[-63,47.8],[-38.3,46.4],[4.3,44.3],[29.4,45.6],[56.5,47.4],[70,48.4],[81,47.6],[89.4,46.9]],
[[-89.4,44.7],[-79,45.8],[-70,46.5],[-63,45.8],[-38.3,44.5],[-14,43.1],[4.3,42.4],[29.4,43.9],[56.5,46],[70,47],[81,46.4],[89.4,45.5]],
[[-89.4,43.1],[-79,44.1],[-70,45],[-61,44.1],[-38.3,42.7],[-19.4,41],[-11.2,39.6],[-4.5,38.3],[3,38.2],[10.4,38.3],[15.9,40],[32,41.8],[56.5,44.7],[70,45.8],[81,45.2],[89.4,43.9]],
[[-89.4,22.4],[-79,22],[-69.5,21.6],[-63,21.8],[-54.6,23],[-46.5,25.5],[-39.7,28.8],[-35.6,32.1],[-30,33.8],[-18,35.2],[-6.5,36.9],[-3,37.7],[3,38.3],[9,36.9],[24,34.6],[35,32.5],[40.5,29.2],[47.5,25.1],[56.5,22.6],[66,20.1],[74,20.4],[89.4,20.4]],
[[-70,43.5],[-77,42.5],[-82.4,40],[-83.8,36.3],[-80.4,31.7],[-73.6,28],[-66.8,25],[-63.4,26.3],[-61.4,30.9],[-53.3,35.8],[-45.8,38.3],[-47,40.2],[-61,43.5],[-70,43.5]],
[[-69.5,41.8],[-75,40.4],[-75,37.5],[-68,32.1],[-62.7,35],[-60.4,38.3],[-62,40.4],[-69.5,41.8]],
[[63.3,43.3],[42,40],[42.6,38.3],[55.5,34.6],[58,28.8],[60.3,25],[67.3,22.9],[71.4,24.7],[76,28.8],[80,34.6],[84.5,40],[82,42],[74,43.5],[69.3,43.9],[63.3,43.3]],
[[68.5,41.8],[64,41.2],[62.3,39.2],[64.6,36.7],[68,35.6],[70.7,37.5],[71.4,41.2],[68.5,41.8]],
[[-89.4,20.7],[-76.3,20.3],[-65.4,19.3],[-56,19.5],[-49.2,20.5],[-30,22.8],[-18,25.1],[-11.2,27.2],[-0.4,28.8],[12,28],[20,25.5],[29.4,23],[43,22],[59.4,20.1],[67.3,18.5],[89.4,18.5]],
[[-89.4,19.9],[-73.6,19.1],[-68,17.6],[-57,17.8],[-38.3,20.1],[-19.4,21.8],[-0.4,23.8],[16,22.2],[29.4,20.9],[43,20.1],[56.5,18.9],[66,17.2],[89.4,16.9]],
[[-89.4,18.7],[-83,17.2],[-68,16],[-60,16.2],[-38.3,18.9],[-19.4,20.5],[1,21.7],[22.6,20.7],[36,19.9],[56.5,17.2],[67.3,15.9],[89.4,15.8]],
[[-89.4,18.3],[-84,17.2],[-83,16.4],[-82.2,14.7],[-66.6,13.9],[-60,14.5],[-38.3,18],[-19.4,19.8],[-1.8,20.2],[16,19.9],[33.5,19.1],[56.5,16],[67.3,14.5],[89.4,14.1]],
[[-89.4,12.6],[-65.4,12.3],[-54.6,13.9],[-38.3,17.2],[-19.4,19],[-6.5,19.2],[16,18.9],[32,18],[47,15.4],[66,12.9],[89.4,12.3]],
[[-89.4,11.3],[-66.6,11.2],[-51.9,12.9],[-35.6,16.2],[-19.4,17.8],[13,18.1],[29.4,17.2],[47,14.1],[64.6,11.6],[89.4,11.1]],
[[-89.4,10.1],[-65.4,10.4],[-46.5,11.8],[-35.6,13.9],[-19.4,17],[-9.2,17.3],[13,17],[29.4,15.4],[43,12.7],[62,10.6],[89.4,10.2]],
[[-89.4,8.7],[-78.3,8.9],[-57.3,9.4],[-38.3,11],[-30.2,12.7],[-19.4,15.8],[-1.8,16.2],[13,16.1],[24,15.2],[37.5,12.3],[51,9.8],[89.4,9]]
];
const labelsF=[['5',0.7,48.3],['5',-2,20.2],['5',-66.8,13.8],['6',0.7,46],['6',-65.4,15.8],['7',-69,48],['7',4.3,44.3],['7',-0.4,23.8],['7',-65.7,17.6],['8',4.3,42.4],['8',-0.7,28.7],['8',-60.7,19.3],['9',3,38.1],['9',-66.8,20.9],['10',69.4,43.9],['4',-84.4,12.5],['4',-6.5,19.1],['3',-68,11.2],['3',13,18.1],['2',-81.7,10.2],['2',-9.2,17.3],['1',-78.3,8.9],['1',-1.8,16.1]];
const hatchF=[
[[-89.4,50],[-72,50],[-79,40.8],[-88,37.7],[-89.4,37.5]],
[[-22.5,41],[-15,43],[-5,42.9],[-12,39.5],[-18,39.5]],
[[63,41.5],[71,42],[74,39],[68,35],[64,36]],
[[-89.4,24],[-79,25.6],[-70,27],[-56,29],[-41,30],[-30,31.3],[-16,32.3],[2,32.3],[22.6,31.5],[36,30],[50,28.8],[66,28],[75,28.2],[89.4,26.5],[89.4,25],[75,27],[66,27.4],[50,27.8],[36,28.8],[22.6,30.5],[2,31],[-16,30.9],[-30,29.6],[-41,28.2],[-56,27.4],[-70,25.6],[-79,23.8],[-89.4,22.6]],
[[-60,16],[-30,20],[2,22],[30,20.3],[56,16.5],[67,15.2],[89.4,15],[89.4,14],[67,14.5],[56,16],[30,19.5],[2,21],[-30,19.5],[-60,15.5]]
];

/* ---------- figure layout ---------- */
const panels=[
{key:'a',eq:420,top:48.5,bottom:528,base:11,colors:colorsA,bands:bandsA,contours:contoursA,labels:labelsA,hatch:hatchA,levels:levelsA,
 title:'(a)\u00A0\u00A0ΔHCl\u00A0\u00A0[ppt],\u00A0\u00A0DEST−StratTrop',titleY:28,titleW:457,hX:26,pX:800,
 cb:{tipL:13,l:52,r:773.6,tipR:814,y:586,h:19,ly:616}},
{key:'b',eq:1220.5,top:48.5,bottom:528,base:5,colors:colorsB,bands:bandsB,contours:contoursB,labels:labelsB,hatch:hatchB,levels:levelsB,
 title:'(b)\u00A0\u00A0ΔClONO₂\u00A0\u00A0[ppt],\u00A0\u00A0DEST−StratTrop',titleY:28,titleW:505,hX:826,pX:1600,
 cb:{tipL:812,l:867,r:1560,tipR:1614,y:586,h:19,ly:616}},
{key:'c',eq:420,top:666.4,bottom:1146,base:4,colors:colorsC,bands:bandsC,contours:contoursC,labels:labelsC,hatch:hatchC,levels:levelsC,
 title:'(c)\u00A0\u00A0ΔBrCl\u00A0\u00A0[ppt],\u00A0\u00A0DEST−StratTrop',titleY:646,titleW:466,hX:26,pX:800,
 cb:{tipL:63,l:122,r:703.5,tipR:763,y:1204,h:18.5,ly:1234}},
{key:'d',eq:1220.5,top:666.4,bottom:1146,base:6,colors:colorsD,bands:bandsD,contours:contoursD,labels:labelsD,hatch:hatchD,levels:levelsD,
 title:'(d)\u00A0\u00A0ΔHBr\u00A0\u00A0[ppt],\u00A0\u00A0DEST−StratTrop',titleY:646,titleW:461,hX:826,pX:1600,
 cb:{tipL:814,l:859.7,r:1567,tipR:1614,y:1204,h:18.5,ly:1234}},
{key:'e',eq:420,top:1285,bottom:1764,base:13,colors:colorsE,bands:bandsE,contours:contoursE,labels:labelsE,hatch:hatchE,levels:levelsE,
 title:'(e)\u00A0\u00A0ΔBrONO₂\u00A0\u00A0[ppt],\u00A0\u00A0DEST−StratTrop',titleY:1264,titleW:508,hX:26,pX:800,
 cb:{tipL:13,l:54,r:771.5,tipR:812.6,y:1822.4,h:18.6,ly:1852}},
{key:'f',eq:1220.5,top:1285,bottom:1764,base:6,colors:colorsF,bands:bandsF,contours:contoursF,labels:labelsF,hatch:hatchF,levels:levelsF,
 title:'(f)\u00A0\u00A0ΔBrO\u00A0\u00A0[ppt],\u00A0\u00A0DEST−StratTrop',titleY:1264,titleW:455,hX:826,pX:1600,
 cb:{tipL:863,l:921.5,r:1505,tipR:1564,y:1822.4,h:18.6,ly:1852}}
];

const NS='http://www.w3.org/2000/svg';
const root=document.getElementById('figure');
const defs=root.querySelector('defs');
function mk(tag,attrs,parent,text){
  const n=document.createElementNS(NS,tag);
  for(const k in attrs){n.setAttribute(k,attrs[k]);}
  if(text!==undefined){n.textContent=text;}
  parent.appendChild(n);
  return n;
}
function f(v){return v.toFixed(1);}
/* Catmull-Rom segments following the current point */
function curve(p){
  let s='';
  for(let i=0;i<p.length-1;i++){
    const a=p[Math.max(i-1,0)],b=p[i],c=p[i+1],d=p[Math.min(i+2,p.length-1)];
    s+='C'+f(b[0]+(c[0]-a[0])/6)+' '+f(b[1]+(c[1]-a[1])/6)+' '+f(c[0]-(d[0]-b[0])/6)+' '+f(c[1]-(d[1]-b[1])/6)+' '+f(c[0])+' '+f(c[1]);
  }
  return s;
}
function begin(p){return 'M'+f(p[0][0])+' '+f(p[0][1]);}
/* condensed text width: natural Liberation advance times a squeeze factor */
const GLYPH_EM={'.':0.278,'−':0.584,'S':0.667,'N':0.722,'E':0.667,'Q':0.778};
function squeezed(str,size,factor){
  let em=0;
  for(const ch of str){em+=(GLYPH_EM[ch]||0.556);}
  return (em*size*factor).toFixed(1);
}

panels.forEach(function(P){
  const PXDEG=3.82,EDGE=89.4;
  const xS=function(lat){return P.eq+lat*PXDEG;};
  const yS=function(h){return P.bottom-(h/50)*(P.bottom-P.top);};
  const L=xS(-EDGE),R=xS(EDGE);
  const W=R-L,H=P.bottom-P.top;

  const g=mk('g',{},root);
  
  

  const cp=mk('clipPath',{id:'clip-'+P.key},defs);
  mk('rect',{x:L,y:P.top,width:W,height:H},cp);

  const title=mk('text',{x:P.eq,y:P.titleY,'text-anchor':'middle','dominant-baseline':'central','font-size':28,textLength:P.titleW,lengthAdjust:'spacing'},g,P.title);
  
  

  const plot=mk('g',{'clip-path':'url(#clip-'+P.key+')'},g);
  
  

  const bg=mk('rect',{x:L,y:P.top,width:W,height:H,fill:P.colors[P.base]},plot);
  
  

  /* filled contour bands */
  P.bands.forEach(function(b){
    const pts=b[1];
    let d;
    if(pts[0].length===3){
      const top=pts.map(function(q){return [xS(q[0]),yS(q[1])];});
      const bot=pts.map(function(q){return [xS(q[0]),yS(q[2])];}).reverse();
      d=begin(top)+curve(top)+'L'+f(bot[0][0])+' '+f(bot[0][1])+curve(bot)+'Z';
    }else{
      const poly=pts.map(function(q){return [xS(q[0]),yS(q[1])];});
      d=begin(poly)+curve(poly)+'Z';
    }
    const band=mk('path',{d:d,fill:P.colors[b[0]]},plot);
    
    
  });

  /* grid */
  latTicks.forEach(function(v){
    const gl=mk('line',{x1:xS(v),x2:xS(v),y1:P.top,y2:P.bottom,stroke:'#b0b0b0','stroke-width':1.3,'stroke-dasharray':'1.5 3.5'},plot);
    
    
  });
  heightTicks.slice(1,-1).forEach(function(v){
    const gl=mk('line',{x1:L,x2:R,y1:yS(v),y2:yS(v),stroke:'#b0b0b0','stroke-width':1.3,'stroke-dasharray':'1.5 3.5'},plot);
    
    
  });

  /* significance hatching */
  if(P.hatch.length){
    const dh=P.hatch.map(function(poly){
      return poly.map(function(q,i){return (i?'L':'M')+f(xS(q[0]))+' '+f(yS(q[1]));}).join('')+'Z';
    }).join('');
    const ht=mk('path',{d:dh,fill:'url(#hatch)','fill-rule':'evenodd'},plot);
    
    
  }

  /* contour lines, broken under their labels */
  const mask=mk('mask',{id:'mask-'+P.key,maskUnits:'userSpaceOnUse',x:L,y:P.top,width:W,height:H},defs);
  mk('rect',{x:L,y:P.top,width:W,height:H,fill:'#fff'},mask);
  P.labels.forEach(function(l){
    const w=l[0].length*8+5;
    mk('rect',{x:xS(l[1])-w/2,y:yS(l[2])-9,width:w,height:18,fill:'#000'},mask);
  });
  const lines=mk('g',{mask:'url(#mask-'+P.key+')',fill:'none',stroke:'#000','stroke-width':1.8},plot);
  
  
  P.contours.forEach(function(c){
    const pts=c.map(function(q){return [xS(q[0]),yS(q[1])];});
    const ln=mk('path',{d:begin(pts)+curve(pts)},lines);
    
    
  });
  P.labels.forEach(function(l){
    const t=mk('text',{x:xS(l[1]),y:yS(l[2]),'text-anchor':'middle','dominant-baseline':'central','font-size':22,stroke:'#000','stroke-width':0.35,textLength:squeezed(l[0],22,0.85),lengthAdjust:'spacingAndGlyphs'},plot,l[0]);
    
    
  });

  /* frame */
  const fr=mk('rect',{x:L,y:P.top,width:W,height:H,fill:'none',stroke:'#000','stroke-width':1.6},g);
  
  

  /* axes */
  latTicks.forEach(function(v,i){
    const tk=mk('line',{x1:xS(v),x2:xS(v),y1:P.bottom,y2:P.bottom+5,stroke:'#000','stroke-width':1.6},g);
    
    
    const t=mk('text',{x:xS(v),y:P.bottom+21,'text-anchor':'middle','dominant-baseline':'central','font-size':24,textLength:squeezed(latTickLabels[i],24,0.87),lengthAdjust:'spacingAndGlyphs'},g,latTickLabels[i]);
    
    
  });
  heightTicks.forEach(function(v){
    const tk=mk('line',{x1:L-6,x2:L,y1:yS(v),y2:yS(v),stroke:'#000','stroke-width':1.6},g);
    
    
    const t=mk('text',{x:L-12,y:yS(v),'text-anchor':'end','dominant-baseline':'central','font-size':24,textLength:squeezed(String(v),24,0.92),lengthAdjust:'spacingAndGlyphs'},g,String(v));
    
    
  });
  pressureTicks.forEach(function(p){
    const yp=yS(16.1*Math.log10(1000/p));
    const tk=mk('line',{x1:R,x2:R+5,y1:yp,y2:yp,stroke:'#000','stroke-width':1.6},g);
    
    
    const t=mk('text',{x:R+5,y:yp,'dominant-baseline':'central','font-size':24,textLength:squeezed(String(p),24,0.88),lengthAdjust:'spacingAndGlyphs'},g,String(p));
    
    
  });
  const cy=(P.top+P.bottom)/2+11;
  const hl=mk('text',{x:P.hX,y:cy,'text-anchor':'middle','dominant-baseline':'central','font-size':27,textLength:153,lengthAdjust:'spacing',transform:'rotate(-90 '+P.hX+' '+cy+')'},g,'height\u00A0\u00A0[km]');
  
  
  const pl=mk('text',{x:P.pX,y:cy,'text-anchor':'middle','dominant-baseline':'central','font-size':27,textLength:100,lengthAdjust:'spacing',transform:'rotate(-90 '+P.pX+' '+cy+')'},g,'p\u00A0\u00A0[hPa]');
  
  

  /* colour bar */
  const cb=P.cb;
  const bar=mk('g',{stroke:'#000','stroke-width':1},g);
  
  
  const nBox=P.levels.length-1;
  const bw=(cb.r-cb.l)/nBox;
  const left=mk('polygon',{points:cb.tipL+','+(cb.y+cb.h/2)+' '+cb.l+','+cb.y+' '+cb.l+','+(cb.y+cb.h),fill:P.colors[0]},bar);
  
  
  for(let i=0;i<nBox;i++){
    const box=mk('rect',{x:cb.l+i*bw,y:cb.y,width:bw,height:cb.h,fill:P.colors[i+1]},bar);
    
    
  }
  const right=mk('polygon',{points:cb.tipR+','+(cb.y+cb.h/2)+' '+cb.r+','+cb.y+' '+cb.r+','+(cb.y+cb.h),fill:P.colors[P.colors.length-1]},bar);
  
  
  P.levels.forEach(function(lv,i){
    const t=mk('text',{x:cb.l+i*bw,y:cb.ly,'text-anchor':'middle','dominant-baseline':'central','font-size':19,textLength:squeezed(lv,19,0.92),lengthAdjust:'spacingAndGlyphs'},g,lv);
    
    
  });
});
</script>
</body>
</html>
